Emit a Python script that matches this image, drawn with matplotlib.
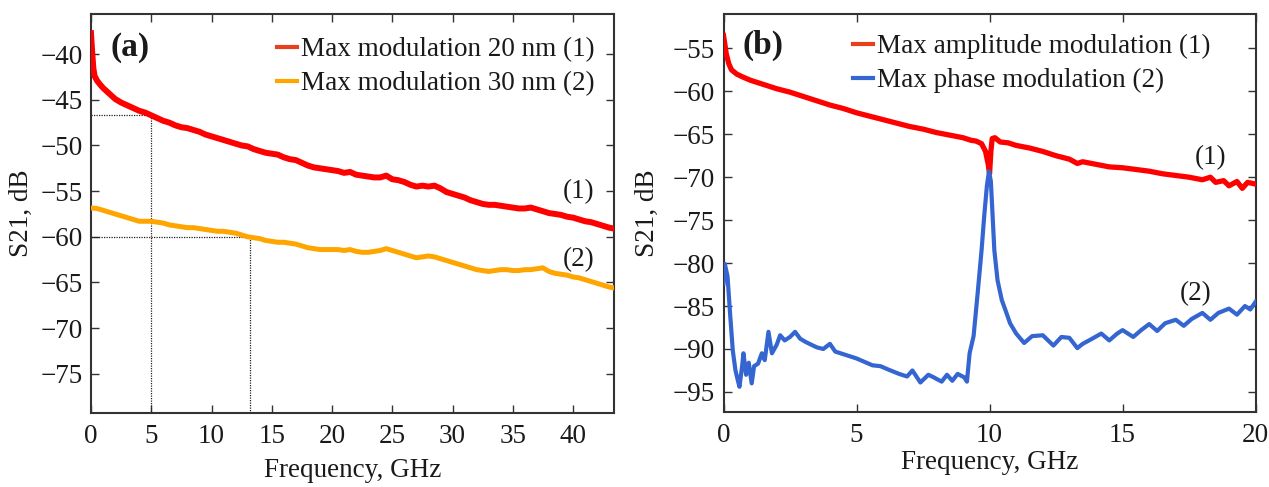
import matplotlib
matplotlib.use("Agg")
import matplotlib.pyplot as plt
from matplotlib.lines import Line2D

plt.rcParams['font.family'] = ['Liberation Serif', 'DejaVu Serif']

# ---------------- Panel (a) data ----------------
fa_red = [0, 0.1, 0.2, 0.3, 0.5, 0.8, 1, 1.5, 2, 2.5, 3, 3.5, 4, 4.5, 5, 5.5, 6, 6.5, 7, 7.5,
          8, 8.5, 9, 9.5, 10, 10.5, 11, 11.5, 12, 12.5, 13, 13.5, 14, 14.5, 15, 15.5, 16, 16.5,
          17, 17.5, 18, 18.5, 19, 19.5, 20, 20.5, 21, 21.5, 22, 22.5, 23, 23.5, 24, 24.5, 25,
          25.5, 26, 26.5, 27, 27.5, 28, 28.5, 29, 29.5, 30, 30.5, 31, 31.5, 32, 32.5, 33, 33.5,
          34, 34.5, 35, 35.5, 36, 36.5, 37, 37.5, 38, 38.5, 39, 39.5, 40, 40.5, 41, 41.5, 42,
          42.5, 43, 43.4]
sa_red = [-37.7, -39.8, -41.6, -42.4, -42.9, -43.4, -43.7, -44.3, -44.9, -45.3, -45.6, -45.9,
          -46.2, -46.4, -46.7, -47.0, -47.3, -47.5, -47.8, -48.0, -48.1, -48.3, -48.5, -48.8,
          -49.0, -49.2, -49.4, -49.6, -49.8, -50.0, -50.1, -50.4, -50.6, -50.8, -50.9, -51.0,
          -51.3, -51.5, -51.6, -51.9, -52.2, -52.4, -52.5, -52.6, -52.7, -52.8, -53.0, -52.9,
          -53.2, -53.3, -53.4, -53.5, -53.5, -53.3, -53.7, -53.8, -54.0, -54.3, -54.5, -54.4,
          -54.5, -54.4, -54.7, -55.1, -55.3, -55.5, -55.7, -56.0, -56.2, -56.4, -56.5, -56.5,
          -56.6, -56.7, -56.8, -56.9, -56.9, -56.8, -57.0, -57.2, -57.4, -57.5, -57.6, -57.8,
          -57.9, -58.1, -58.3, -58.4, -58.6, -58.8, -59.0, -59.1]

fa_or = [0, 0.5, 1, 1.5, 2, 2.5, 3, 3.5, 4, 4.5, 5, 5.5, 6, 6.5, 7, 7.5, 8, 8.5, 9, 9.5, 10,
         10.5, 11, 11.5, 12, 12.5, 13, 13.5, 14, 14.5, 15, 15.5, 16, 16.5, 17, 17.5, 18, 18.5,
         19, 19.5, 20, 20.5, 21, 21.5, 22, 22.5, 23, 23.5, 24, 24.5, 25, 25.5, 26, 26.5, 27,
         27.5, 28, 28.5, 29, 29.5, 30, 30.5, 31, 31.5, 32, 32.5, 33, 33.5, 34, 34.5, 35, 35.5,
         36, 36.5, 37, 37.5, 38, 38.5, 39, 39.5, 40, 40.5, 41, 41.5, 42, 42.5, 43, 43.4]
sa_or = [-56.85, -56.9, -57.1, -57.3, -57.5, -57.7, -57.9, -58.1, -58.3, -58.3, -58.3, -58.4,
         -58.5, -58.7, -58.8, -58.9, -59.0, -59.0, -59.1, -59.2, -59.3, -59.4, -59.4, -59.5,
         -59.6, -59.8, -60.0, -60.1, -60.2, -60.4, -60.5, -60.6, -60.6, -60.7, -60.8, -61.0,
         -61.2, -61.3, -61.4, -61.4, -61.4, -61.4, -61.5, -61.4, -61.6, -61.7, -61.7, -61.6,
         -61.5, -61.3, -61.5, -61.7, -61.9, -62.1, -62.3, -62.2, -62.1, -62.2, -62.4, -62.6,
         -62.8, -63.0, -63.2, -63.4, -63.6, -63.7, -63.8, -63.7, -63.6, -63.6, -63.7, -63.7,
         -63.6, -63.6, -63.5, -63.4, -63.8, -64.0, -64.1, -64.2, -64.4, -64.5, -64.7, -64.9,
         -65.1, -65.3, -65.5, -65.6]

marker_f = [5, 13.2]
marker_s = [-46.7, -60.0]

# ---------------- Panel (b) data ----------------
fb_red = [0, 0.05, 0.1, 0.2, 0.3, 0.5, 0.7, 1.0, 1.5, 2.0, 2.5, 3.0, 3.5, 4.0, 4.5, 5.0, 5.5,
          6.0, 6.5, 7.0, 7.5, 8.0, 8.5, 9.0, 9.3, 9.5, 9.7, 9.85, 9.95, 10.0, 10.05, 10.1, 10.2,
          10.4, 10.7, 11.0, 11.5, 12.0, 12.5, 13.0, 13.3, 13.5, 14.0, 14.5, 15.0, 15.5, 16.0,
          16.5, 17.0, 17.5, 18.0, 18.3, 18.5, 18.8, 19.0, 19.3, 19.5, 19.7, 20.0]
sb_red = [-53.5, -54.5, -55.6, -56.8, -57.5, -58.0, -58.3, -58.7, -59.2, -59.7, -60.1, -60.6,
          -61.1, -61.6, -62.0, -62.5, -62.9, -63.3, -63.7, -64.1, -64.4, -64.8, -65.1, -65.4,
          -65.7, -65.8, -66.1, -67.0, -68.5, -69.6, -67.0, -65.5, -65.4, -65.9, -66.0, -66.3,
          -66.6, -67.0, -67.5, -67.9, -68.4, -68.2, -68.5, -68.8, -68.9, -69.1, -69.3, -69.6,
          -69.8, -70.0, -70.3, -70.0, -70.6, -70.4, -71.0, -70.5, -71.3, -70.6, -70.8]

fb_blue = [0, 0.05, 0.15, 0.25, 0.35, 0.45, 0.55, 0.6, 0.7, 0.75, 0.85, 0.95, 1.06, 1.15, 1.3,
           1.44, 1.55, 1.69, 1.82, 2.0, 2.13, 2.3, 2.5, 2.69, 2.88, 3.1, 3.3, 3.5, 3.75, 4.0,
           4.2, 4.4, 4.7, 5.0, 5.3, 5.6, 5.9, 6.2, 6.6, 6.9, 7.1, 7.4, 7.7, 7.9, 8.2, 8.4, 8.6,
           8.8, 9.05, 9.15, 9.25, 9.4, 9.55, 9.7, 9.8, 9.9, 9.98, 10.05, 10.18, 10.3, 10.46,
           10.6, 10.77, 11.0, 11.3, 11.6, 12.0, 12.4, 12.7, 13.0, 13.3, 13.5, 13.8, 14.2, 14.5,
           14.8, 15.0, 15.4, 15.7, 16.0, 16.3, 16.6, 17.0, 17.3, 17.6, 18.0, 18.3, 18.6, 19.0,
           19.3, 19.6, 19.8, 20.0]
sb_blue = [-82.4, -80.1, -81.5, -86.0, -90.2, -92.5, -93.8, -94.4, -92.0, -90.5, -93.0, -91.6,
           -94.0, -92.0, -91.7, -90.5, -91.3, -88.0, -90.5, -89.5, -88.4, -89.0, -88.6, -88.0,
           -88.8, -89.2, -89.5, -89.8, -90.0, -89.4, -90.3, -90.5, -90.8, -91.1, -91.5, -91.9,
           -92.0, -92.4, -92.9, -93.2, -92.5, -93.9, -93.0, -93.3, -93.8, -93.0, -93.7, -92.9,
           -93.3, -93.8, -90.5, -88.5, -83.6, -78.5, -74.5, -71.0, -69.3, -70.5, -78.5, -82.0,
           -84.3, -85.5, -87.0, -88.2, -89.3, -88.5, -88.4, -89.6, -88.6, -88.7, -89.9, -89.4,
           -88.9, -88.2, -89.0, -88.2, -87.8, -88.6, -87.8, -87.1, -87.9, -87.0, -86.6, -87.3,
           -86.5, -85.8, -86.6, -85.8, -85.3, -86.0, -85.0, -85.4, -84.5]

labels_a = ["Max modulation 20 nm (1)", "Max modulation 30 nm (2)"]
labels_b = ["Max amplitude modulation (1)", "Max phase modulation (2)"]
xticks_a = [0, 5, 10, 15, 20, 25, 30, 35, 40]
yticks_a = [-75, -70, -65, -60, -55, -50, -45, -40]
xticks_b = [0, 5, 10, 15, 20]
yticks_b = [-95, -90, -85, -80, -75, -70, -65, -60, -55]

FS = 19.5
TXT = '#1a1a1a'
RED = '#ff0000'
ORANGE = '#ffa500'
BLUE = '#3465d0'
HANDLE_RED = '#e8401c'

fig = plt.figure(figsize=(12.69, 4.87), dpi=100)
axa = fig.add_axes([91/1269, 1-413/487, (614-91)/1269, (413-14)/487])
axb = fig.add_axes([723.5/1269, 1-411.7/487, (1255.6-723.5)/1269, (411.7-14)/487])

def style(ax):
    for s in ax.spines.values():
        s.set_linewidth(1.5)
        s.set_color('#333333')
    ax.tick_params(direction='in', length=5.5, width=1.0, top=True, right=True,
                   labelsize=FS, colors='#333333', labelcolor=TXT)
    ax.tick_params(axis='x', pad=8)
    ax.tick_params(axis='y', pad=6)

# Panel (a)
axa.plot(fa_red, sa_red, color=RED, lw=4.3, solid_joinstyle='round', zorder=3)
axa.plot(fa_or, sa_or, color=ORANGE, lw=3.6, solid_joinstyle='round', zorder=3)
axa.set_xlim(0, 43.4)
axa.set_ylim(-79.3, -35.6)
for f, s in zip(marker_f, marker_s):
    axa.plot([0, f], [s, s], color='#222222', lw=0.9, ls=(0, (1, 1)), zorder=2)
    axa.plot([f, f], [s, -79.3], color='#222222', lw=0.9, ls=(0, (1, 1)), zorder=2)
axa.set_xticks(xticks_a)
axa.set_yticks(yticks_a)
style(axa)
axa.set_xlabel("Frequency, GHz", fontsize=FS, color=TXT)
axa.set_ylabel("S21, dB", fontsize=FS, color=TXT)
axa.xaxis.label.set_va('center')
axa.yaxis.label.set_va('center')
axa.xaxis.set_label_coords(0.5, -0.145)
axa.yaxis.set_label_coords(-0.134, 0.5)
axa.text(0.075, 0.915, "(a)", transform=axa.transAxes, fontsize=24, fontweight='bold',
         ha='center', va='center', color=TXT)
axa.text(40.5, -55.07, "(1)", fontsize=FS, ha='center', va='center', color=TXT)
axa.text(40.5, -62.54, "(2)", fontsize=FS, ha='center', va='center', color=TXT)
ha = [Line2D([], [], color=HANDLE_RED, lw=3), Line2D([], [], color=ORANGE, lw=3)]
axa.legend(ha, labels_a, loc='upper left', bbox_to_anchor=(0.355, 0.942), frameon=False,
           fontsize=FS, handlelength=0.75, handletextpad=0.15, labelspacing=0.33,
           borderpad=0, borderaxespad=0, labelcolor=TXT)

# Panel (b)
axb.plot(fb_red, sb_red, color=RED, lw=3.8, solid_joinstyle='round', zorder=3)
axb.plot(fb_blue, sb_blue, color=BLUE, lw=3.0, solid_joinstyle='round', zorder=3)
axb.set_xlim(0, 20)
axb.set_ylim(-97.3, -51.0)
axb.set_xticks(xticks_b)
axb.set_yticks(yticks_b)
style(axb)
axb.set_xlabel("Frequency, GHz", fontsize=FS, color=TXT)
axb.set_ylabel("S21, dB", fontsize=FS, color=TXT)
axb.xaxis.label.set_va('center')
axb.yaxis.label.set_va('center')
axb.xaxis.set_label_coords(0.5, -0.127)
axb.yaxis.set_label_coords(-0.143, 0.5)
axb.text(0.074, 0.92, "(b)", transform=axb.transAxes, fontsize=24, fontweight='bold',
         ha='center', va='center', color=TXT)
axb.text(18.29, -67.67, "(1)", fontsize=FS, ha='center', va='center', color=TXT)
axb.text(17.73, -83.52, "(2)", fontsize=FS, ha='center', va='center', color=TXT)
hb = [Line2D([], [], color=HANDLE_RED, lw=3), Line2D([], [], color=BLUE, lw=3)]
axb.legend(hb, labels_b, loc='upper left', bbox_to_anchor=(0.243, 0.95), frameon=False,
           fontsize=FS, handlelength=0.75, handletextpad=0.15, labelspacing=0.33,
           borderpad=0, borderaxespad=0, labelcolor=TXT)

fig.savefig("out.png", dpi=100)
